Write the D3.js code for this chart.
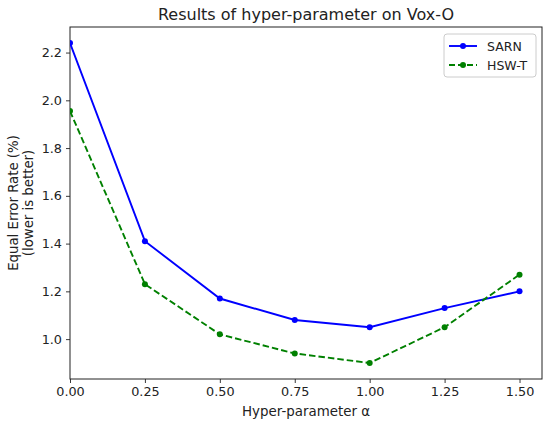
<!DOCTYPE html>
<html>
<head>
<meta charset="utf-8">
<script src="https://cdn.jsdelivr.net/npm/d3@7"></script>
<style>
  body { margin: 0; background: #fff; }
  text { font-family: "DejaVu Sans", sans-serif; fill: #222; }
</style>
</head>
<body>
<script>
// chart data
var alphas = [0, 0.25, 0.5, 0.75, 1.0, 1.25, 1.5];
var sarn = [2.24, 1.41, 1.17, 1.08, 1.05, 1.13, 1.20];
var hswt = [1.955, 1.23, 1.02, 0.94, 0.90, 1.05, 1.27];
var xTicks = [0, 0.25, 0.5, 0.75, 1.0, 1.25, 1.5];
var yTicks = [1.0, 1.2, 1.4, 1.6, 1.8, 2.0, 2.2];

var svgWidth = 550;
var svgHeight = 426;

var margin = { top: 27, right: 8, bottom: 47, left: 70 };
var chartWidth = svgWidth - margin.left - margin.right;
var chartHeight = svgHeight - margin.top - margin.bottom;

var svg = d3.select("body")
  .append("svg")
  .attr("width", svgWidth)
  .attr("height", svgHeight);

var chartGroup = svg.append("g")
  .attr("transform", `translate(${margin.left}, ${margin.top})`);

var xScale = d3.scaleLinear()
  .domain([0, 1.575])
  .range([0, chartWidth]);

var yScale = d3.scaleLinear()
  .domain([0.833, 2.307])
  .range([chartHeight, 0]);

// axes
var bottomAxis = d3.axisBottom(xScale)
  .tickValues(xTicks)
  .tickFormat(d3.format(".2f"))
  .tickSizeInner(4).tickSizeOuter(0).tickPadding(4);
var leftAxis = d3.axisLeft(yScale)
  .tickValues(yTicks)
  .tickFormat(d3.format(".1f"))
  .tickSizeInner(4).tickSizeOuter(0).tickPadding(4);

chartGroup.append("g")
  .attr("transform", `translate(0, ${chartHeight})`)
  .call(bottomAxis);
chartGroup.append("g")
  .call(leftAxis);

chartGroup.selectAll(".domain").remove();
chartGroup.selectAll(".tick line").attr("stroke", "#222").attr("stroke-width", 0.9);
chartGroup.selectAll(".tick text").style("font-size", "12.8px").attr("fill", "#222");

// frame
chartGroup.append("rect")
  .attr("width", chartWidth)
  .attr("height", chartHeight)
  .attr("fill", "none")
  .attr("stroke", "#222")
  .attr("stroke-width", 1);

// lines
var series = [
  { name: "SARN", values: sarn, color: "#0000ff", dash: null },
  { name: "HSW-T", values: hswt, color: "#008000", dash: "6.5,3" }
];

var line = d3.line()
  .x((d, i) => xScale(alphas[i]))
  .y(d => yScale(d));

chartGroup.append("clipPath").attr("id", "clip")
  .append("rect").attr("width", chartWidth).attr("height", chartHeight);

series.forEach(function(s) {
  var g = chartGroup.append("g").attr("clip-path", "url(#clip)");
  g.append("path")
    .datum(s.values)
    .attr("d", line)
    .attr("fill", "none")
    .attr("stroke", s.color)
    .attr("stroke-width", 1.9)
    .attr("stroke-dasharray", s.dash);
  g.selectAll("circle")
    .data(s.values)
    .enter()
    .append("circle")
    .attr("cx", (d, i) => xScale(alphas[i]))
    .attr("cy", d => yScale(d))
    .attr("r", 3)
    .attr("fill", s.color);
});

// title and labels
svg.append("text")
  .attr("x", margin.left + chartWidth / 2)
  .attr("y", 20)
  .attr("text-anchor", "middle")
  .style("font-size", "16px")
  .text("Results of hyper-parameter on Vox-O");

svg.append("text")
  .attr("x", margin.left + chartWidth / 2)
  .attr("y", 416)
  .attr("text-anchor", "middle")
  .style("font-size", "13.4px")
  .text("Hyper-parameter α");

var yLabel = svg.append("text")
  .attr("transform", `translate(18, ${margin.top + chartHeight / 2}) rotate(-90)`)
  .attr("text-anchor", "middle")
  .style("font-size", "13.3px");
yLabel.append("tspan").attr("x", 0).attr("dy", 0).text("Equal Error Rate (%)");
yLabel.append("tspan").attr("x", 0).attr("dy", 15).text("(lower is better)");

// legend
var legend = svg.append("g")
  .attr("transform", "translate(444, 34)");
legend.append("rect")
  .attr("width", 92)
  .attr("height", 43)
  .attr("rx", 3)
  .attr("fill", "#fff")
  .attr("fill-opacity", 0.8)
  .attr("stroke", "#ccc")
  .attr("stroke-width", 1);

series.forEach(function(s, i) {
  var y = 12 + i * 19;
  legend.append("line")
    .attr("x1", 5).attr("x2", 33)
    .attr("y1", y).attr("y2", y)
    .attr("stroke", s.color)
    .attr("stroke-width", 1.9)
    .attr("stroke-dasharray", s.dash ? "6,3" : null);
  legend.append("circle")
    .attr("cx", 19).attr("cy", y).attr("r", 3)
    .attr("fill", s.color);
  legend.append("text")
    .attr("x", 43).attr("y", y + 4.5)
    .style("font-size", "12.5px")
    .text(s.name);
});
</script>
</body>
</html>
